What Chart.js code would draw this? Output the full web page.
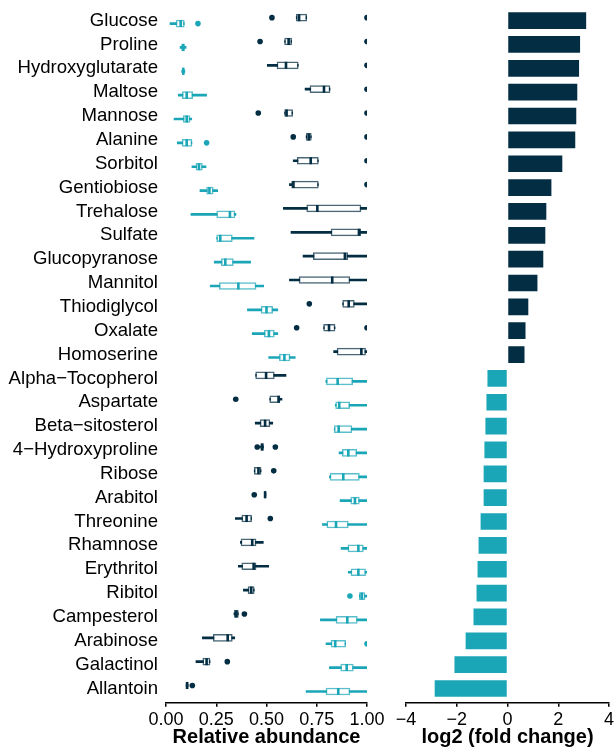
<!DOCTYPE html>
<html><head><meta charset="utf-8">
<script src="https://cdn.jsdelivr.net/npm/chart.js@4/dist/chart.umd.min.js"></script>
<style>
html,body{margin:0;padding:0;background:#fff;}
#left{position:absolute;left:0;top:0;width:390px;height:748px;}
#right{position:absolute;left:390px;top:0;width:224px;height:748px;}
</style></head><body>
<div id="left"><canvas id="c1"></canvas></div>
<div id="right"><canvas id="c2"></canvas></div>
<script>
const categories = ['Glucose','Proline','Hydroxyglutarate','Maltose','Mannose','Alanine','Sorbitol','Gentiobiose','Trehalose','Sulfate','Glucopyranose','Mannitol','Thiodiglycol','Oxalate','Homoserine','Alpha\u2212Tocopherol','Aspartate','Beta\u2212sitosterol','4\u2212Hydroxyproline','Ribose','Arabitol','Threonine','Rhamnose','Erythritol','Ribitol','Campesterol','Arabinose','Galactinol','Allantoin'];

const foldChange = [3.10, 2.86, 2.82, 2.75, 2.71, 2.67, 2.16, 1.73, 1.53, 1.49, 1.41, 1.18, 0.82, 0.71, 0.67, -0.79, -0.83, -0.87, -0.91, -0.94, -0.94, -1.06, -1.14, -1.18, -1.22, -1.34, -1.65, -2.09, -2.87];

const navyLow    = [0.648, 0.59, 0.504, 0.692, 0.59, 0.697, 0.633, 0.614, 0.584, 0.622, 0.682, 0.614, 0.879, 0.784, 0.834, 0.446, 0.516, 0.444, 0.47, 0.439, 0.49, 0.345, 0.37, 0.36, 0.385, 0.338, 0.181, 0.149, 0.10];
const navyQ1     = [0.648, 0.59, 0.552, 0.716, 0.59, 0.697, 0.653, 0.625, 0.70, 0.821, 0.733, 0.662, 0.879, 0.784, 0.851, 0.446, 0.516, 0.468, 0.472, 0.439, 0.49, 0.377, 0.373, 0.377, 0.408, 0.34, 0.235, 0.183, 0.10];
const navyMedian = [0.662, 0.61, 0.597, 0.786, 0.60, 0.71, 0.72, 0.634, 0.753, 0.96, 0.89, 0.827, 0.909, 0.811, 0.972, 0.498, 0.56, 0.493, 0.478, 0.46, 0.493, 0.401, 0.429, 0.436, 0.424, 0.35, 0.307, 0.202, 0.105];
const navyQ3     = [0.70, 0.625, 0.658, 0.816, 0.63, 0.723, 0.758, 0.758, 0.97, 0.969, 0.904, 0.915, 0.937, 0.841, 0.993, 0.539, 0.567, 0.517, 0.485, 0.473, 0.497, 0.426, 0.448, 0.448, 0.439, 0.36, 0.33, 0.219, 0.11];
const navyHigh   = [0.70, 0.625, 0.658, 0.816, 0.63, 0.723, 0.758, 0.758, 1.0, 1.0, 1.0, 1.0, 1.0, 0.841, 1.0, 0.597, 0.577, 0.531, 0.485, 0.473, 0.497, 0.426, 0.484, 0.511, 0.439, 0.36, 0.342, 0.219, 0.11];
const navyOutliers = [[0.527,1],[0.468,1],[1],[1],[0.459,1],[0.633,1],[1],[1],[],[],[],[],[0.713],[0.65,1],[],[],[0.347],[],[0.454,0.544],[0.536],[0.439],[0.519],[],[],[],[0.39],[],[0.305],[0.131]];

const tealLow    = [0.02, 0.07, 0.078, 0.061, 0.04, 0.056, 0.129, 0.169, 0.124, 0.252, 0.24, 0.22, 0.405, 0.429, 0.511, 0.795, 0.842, 0.837, 0.861, 0.813, 0.866, 0.778, 0.871, 0.907, 0.962, 0.768, 0.796, 0.813, 0.697];
const tealQ1     = [0.05, 0.078, 0.082, 0.081, 0.086, 0.08, 0.149, 0.202, 0.252, 0.252, 0.275, 0.265, 0.473, 0.489, 0.564, 0.798, 0.844, 0.837, 0.877, 0.816, 0.919, 0.80, 0.905, 0.92, 0.962, 0.846, 0.821, 0.869, 0.796];
const tealMedian = [0.073, 0.085, 0.086, 0.103, 0.103, 0.103, 0.164, 0.216, 0.318, 0.27, 0.295, 0.36, 0.50, 0.512, 0.589, 0.854, 0.862, 0.859, 0.907, 0.882, 0.94, 0.846, 0.957, 0.957, 0.974, 0.902, 0.842, 0.899, 0.857];
const tealQ3     = [0.091, 0.092, 0.09, 0.133, 0.119, 0.129, 0.181, 0.235, 0.343, 0.33, 0.335, 0.448, 0.531, 0.539, 0.617, 0.929, 0.914, 0.925, 0.949, 0.962, 0.962, 0.907, 0.982, 0.993, 0.99, 0.952, 0.894, 0.932, 0.915];
const tealHigh   = [0.091, 0.10, 0.094, 0.202, 0.128, 0.129, 0.199, 0.257, 0.348, 0.438, 0.421, 0.486, 0.556, 0.556, 0.643, 1, 1, 1, 1, 1, 1, 1, 1, 1, 1, 1, 0.894, 1, 1];
const tealOutliers = [[0.159],[],[],[],[],[0.202],[],[],[],[],[],[],[],[],[],[],[],[],[],[],[],[],[],[],[0.915],[],[1],[],[]];

const abundanceTicks = [0, 0.25, 0.5, 0.75, 1];
const abundanceTickLabels = ['0.00', '0.25', '0.50', '0.75', '1.00'];
const foldTicks = [-4, -2, 0, 2, 4];
const foldTickLabels = ['\u22124', '\u22122', '0', '2', '4'];

const NAVY = '#032d42';
const TEAL = '#1ba6b7';
const NAVY_EDGE = 'rgba(3,45,66,0.72)';
const TEAL_EDGE = 'rgba(27,166,183,0.72)';
const FONT = '"Liberation Sans", Arial, Helvetica, sans-serif';

Chart.defaults.font.family = FONT;
Chart.defaults.color = '#000';

function groupDatasets(low, q1, med, q3, high, outs, shift, color, edge) {
  const idx = categories.map((_, i) => i + shift);
  return {
    medians: {
      type: 'scatter', data: med.map((v, i) => ({x: v, y: idx[i]})),
      pointStyle: 'line', rotation: 90, radius: 3.5, hoverRadius: 3.5,
      borderColor: color, borderWidth: 2.6, clip: 0
    },
    outliers: {
      type: 'scatter',
      data: outs.flatMap((arr, i) => arr.map(v => ({x: v, y: idx[i]}))),
      pointStyle: 'circle', radius: 2.8, hoverRadius: 2.8,
      backgroundColor: color, borderWidth: 0, clip: 0
    },
    boxes: {
      type: 'bar', indexAxis: 'y', grouped: false,
      data: q1.map((v, i) => ({x: [v, q3[i]], y: idx[i]})),
      barThickness: 7, backgroundColor: '#ffffff', borderColor: edge,
      borderWidth: 1.5, borderSkipped: false, clip: 0
    },
    whiskers: {
      type: 'bar', indexAxis: 'y', grouped: false,
      data: low.map((v, i) => ({x: [v, high[i]], y: idx[i]})),
      barThickness: 2, backgroundColor: color, borderWidth: 0, clip: 0
    }
  };
}

const navy = groupDatasets(navyLow, navyQ1, navyMedian, navyQ3, navyHigh, navyOutliers, -0.125, NAVY, NAVY_EDGE);
const teal = groupDatasets(tealLow, tealQ1, tealMedian, tealQ3, tealHigh, tealOutliers, 0.125, TEAL, TEAL_EDGE);

function xAxis(min, max, ticks, labels, title) {
  return {
    type: 'linear', position: 'bottom', min: min, max: max, offset: false,
    afterBuildTicks: s => { s.ticks = ticks.map(v => ({value: v})); },
    afterFit: s => { s.height = 45.2; s.paddingLeft = 0; s.paddingRight = 0; },
    ticks: { autoSkip: false, maxRotation: 0, padding: 2, color: '#000',
      font: {size: 18}, callback: (v, i) => labels[i] },
    grid: { display: true, drawOnChartArea: false, drawTicks: true, tickLength: 4,
      color: '#000', lineWidth: 1.5, offset: false },
    border: { display: true, color: '#000', width: 1.5 },
    title: { display: true, text: title, color: '#000',
      font: {size: 20, weight: 'bold', lineHeight: 1.1}, padding: {top: 0, bottom: 0} }
  };
}

function yAxis(show) {
  return {
    type: 'linear', min: -0.6, max: 28.6, reverse: true, display: show, offset: false,
    afterBuildTicks: s => { s.ticks = categories.map((_, i) => ({value: i})); },
    afterFit: s => { if (show) s.width = 166; s.paddingTop = 0; s.paddingBottom = 0; },
    ticks: { autoSkip: false, padding: 8, color: '#000', font: {size: 18.6},
      callback: v => categories[v] },
    grid: { display: false, drawTicks: false, offset: false },
    border: { display: false }
  };
}

new Chart(document.getElementById('c1'), {
  type: 'bar',
  data: { datasets: [navy.medians, teal.medians, navy.outliers, teal.outliers,
                     navy.boxes, teal.boxes, navy.whiskers, teal.whiskers] },
  options: {
    indexAxis: 'y', responsive: true, maintainAspectRatio: false, animation: false,
    layout: { padding: {left: 0, right: 23, top: 6.3, bottom: 0} },
    plugins: { legend: {display: false}, tooltip: {enabled: false} },
    scales: {
      x: xAxis(0, 1, abundanceTicks, abundanceTickLabels, 'Relative abundance'),
      y: yAxis(true)
    }
  }
});

new Chart(document.getElementById('c2'), {
  type: 'bar',
  data: { datasets: [{
    indexAxis: 'y',
    data: foldChange.map((v, i) => ({x: v, y: i})),
    backgroundColor: foldChange.map(v => v >= 0 ? NAVY : TEAL),
    borderWidth: 0, barPercentage: 0.7, categoryPercentage: 1.0
  }] },
  options: {
    indexAxis: 'y', responsive: true, maintainAspectRatio: false, animation: false,
    layout: { padding: {left: 16, right: 5, top: 6.3, bottom: 0} },
    plugins: { legend: {display: false}, tooltip: {enabled: false} },
    scales: {
      x: xAxis(-4, 4, foldTicks, foldTickLabels, 'log2 (fold change)'),
      y: yAxis(false)
    }
  }
});
</script>
</body></html>
